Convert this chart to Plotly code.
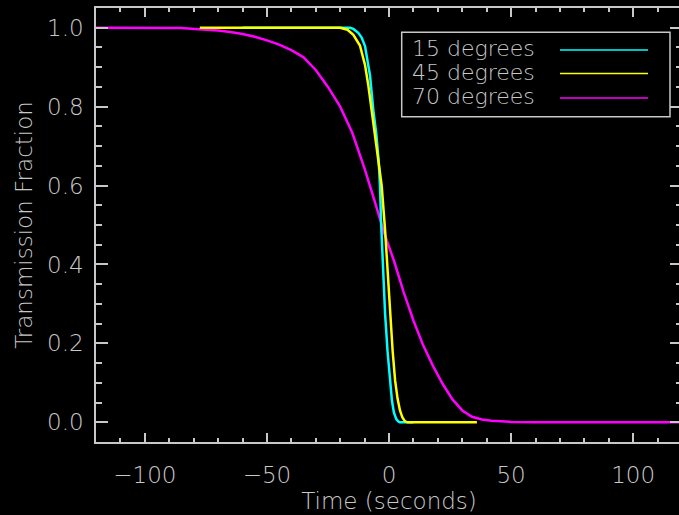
import plotly.graph_objects as go

# ---- data ----
x_15 = [-60, -16, -14.6, -12.6, -11.2, -9.8, -8.5, -7.8, -6.4, -5.2, -4.2, -3.7, -3.2, -2.5, -1.6, -0.6, 0.4, 1.2, 2.0, 3.0, 3.8, 4.5, 10]
y_15 = [1.0, 1.0, 0.997, 0.987, 0.975, 0.953, 0.905, 0.88, 0.79, 0.73, 0.66, 0.6, 0.5, 0.38, 0.275, 0.18, 0.106, 0.055, 0.025, 0.008, 0.002, 0.0, 0.0]

x_45 = [-77.5, -20, -17, -14.6, -11.9, -9.8, -8.5, -7.1, -5.7, -4.3, -3.0, -1.6, -0.6, 0.4, 1.5, 2.5, 3.5, 4.5, 5.5, 6.5, 7.5, 36]
y_45 = [1.0, 1.0, 0.995, 0.982, 0.955, 0.905, 0.855, 0.79, 0.72, 0.66, 0.6, 0.487, 0.38, 0.275, 0.18, 0.106, 0.06, 0.03, 0.012, 0.003, 0.0, 0.0]

x_70 = [-120, -100, -85, -78, -70, -65, -60, -55, -50, -45, -40, -35, -30, -25, -20, -15, -10, -6, -2, 2, 6, 10, 14, 18, 22, 26, 30, 34, 38, 42, 46, 50, 60, 80, 100, 120]
y_70 = [1.0, 1.0, 0.999, 0.996, 0.993, 0.989, 0.984, 0.977, 0.968, 0.957, 0.943, 0.925, 0.893, 0.85, 0.80, 0.733, 0.643, 0.563, 0.48, 0.41, 0.33, 0.258, 0.195, 0.143, 0.097, 0.058, 0.03, 0.014, 0.007, 0.004, 0.002, 0.001, 0.0, 0.0, 0.0, 0.0]

series_names = ["15 degrees", "45 degrees", "70 degrees"]
series_colors = ["#00ffff", "#ffff00", "#ff00ff"]

x_ticks = [-100, -50, 0, 50, 100]
y_ticks = [0.0, 0.2, 0.4, 0.6, 0.8, 1.0]

FG = "#c8c8c8"
FONT = "DejaVu Sans"
WEIGHT = 200

fig = go.Figure()
# draw order: magenta, cyan, yellow
for xs, ys, name, col in [(x_70, y_70, series_names[2], series_colors[2]),
                          (x_15, y_15, series_names[0], series_colors[0]),
                          (x_45, y_45, series_names[1], series_colors[1])]:
    fig.add_trace(go.Scatter(x=xs, y=ys, mode="lines", name=name,
                             line=dict(color=col, width=2.5), showlegend=False))

# the original plot box extends just past the right edge of the 679px view
W, H = 682, 515
L, R, T, B = 96, 0, 8, 73
pw, ph = W - L - R, H - T - B

def px(X):
    return (X - L) / pw

def py(Y):
    return (H - B - Y) / ph

# custom legend (text on left, line sample on right)
fig.add_shape(type="rect", xref="paper", yref="paper",
              x0=px(401.7), x1=px(670), y0=py(116.7), y1=py(32.3),
              line=dict(color=FG, width=1.5), fillcolor="rgba(0,0,0,0)")
row_y = [48.5, 72.5, 96.5]
line_y = [50, 73.5, 98]
for i in range(3):
    fig.add_annotation(xref="paper", yref="paper", x=px(410), y=py(row_y[i]),
                       text=series_names[i], showarrow=False, xanchor="left", yanchor="middle",
                       font=dict(family=FONT, size=22, color=FG, weight=WEIGHT))
    fig.add_shape(type="line", xref="paper", yref="paper",
                  x0=px(560), x1=px(648), y0=py(line_y[i]), y1=py(line_y[i]),
                  line=dict(color=series_colors[i], width=1.3))

axis_common = dict(showgrid=False, zeroline=False, showline=True, linecolor=FG, linewidth=1.5,
                   mirror="ticks", ticks="inside", tickcolor=FG, tickwidth=1.5, automargin=False,
                   tickfont=dict(family=FONT, size=23, color=FG, weight=WEIGHT))

fig.update_xaxes(range=[-120, 120], tickvals=x_ticks, ticklen=9,
                 minor=dict(ticks="inside", dtick=10, ticklen=4.5, tickcolor=FG, tickwidth=1.5),
                 ticklabelstandoff=12,
                 title=dict(text="Time (seconds)", font=dict(family=FONT, size=23, color=FG, weight=WEIGHT), standoff=2),
                 **axis_common)
fig.update_yaxes(range=[-0.05, 1.05], tickvals=y_ticks, tickformat=".1f", ticklen=12,
                 minor=dict(ticks="inside", dtick=0.05, ticklen=6, tickcolor=FG, tickwidth=1.5),
                 ticklabelstandoff=6,
                 title=dict(text="Transmission Fraction", font=dict(family=FONT, size=23, color=FG, weight=WEIGHT), standoff=8),
                 **axis_common)

fig.update_layout(width=W, height=H, autosize=False,
                  margin=dict(l=L, r=R, t=T, b=B, pad=0, autoexpand=False),
                  paper_bgcolor="black", plot_bgcolor="black", showlegend=False)

fig.write_html("out.html",
               config={"displayModeBar": False, "responsive": False},
               post_script="document.documentElement.style.overflow='hidden';document.body.style.margin='0';document.body.style.overflow='hidden';")
